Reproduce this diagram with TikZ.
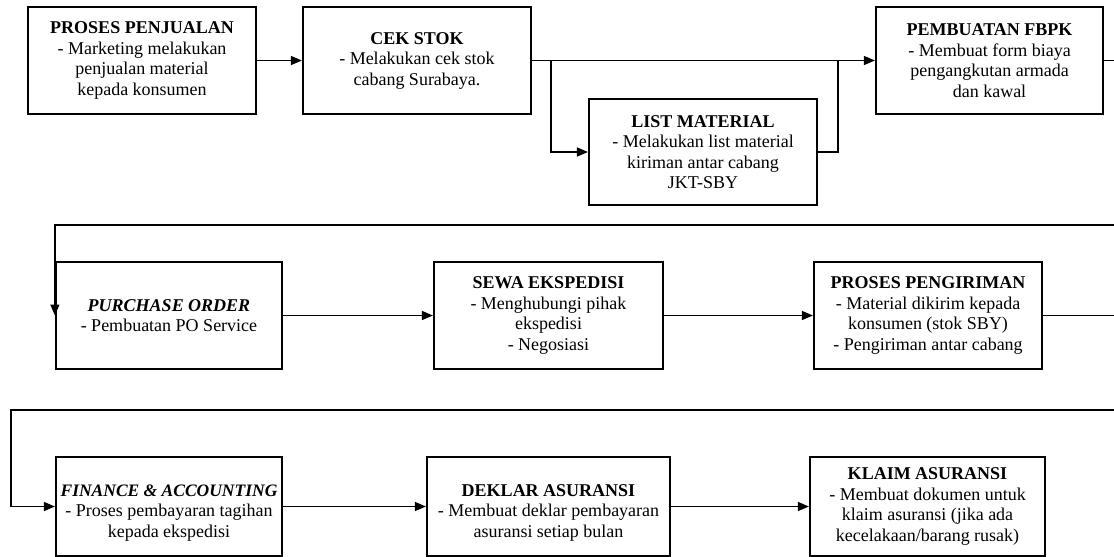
\documentclass[tikz,border=0pt]{standalone}
\usepackage{fontspec}
\setmainfont{Liberation Serif}
\usetikzlibrary{arrows.meta}
% invisible strut that pushes a text block down a little
\newcommand{\lowerstrut}{\rule{0pt}{24pt}}
\begin{document}
\begin{tikzpicture}[x=1pt,y=-1pt,
  stepbox/.style={draw=black, line width=2.2pt, fill=white, align=center,
    inner xsep=2pt, inner ysep=2pt,
    font=\fontsize{18}{20.5}\selectfont},
  link/.style={draw=black, line width=1.4pt},
  arr/.style={link, -{Triangle[length=11pt,width=9pt]}}]
  \useasboundingbox (0,0) rectangle (1114,557);
  \fill[white] (0,0) rectangle (1114,557);

  % row 1
  \node[stepbox, minimum width=228pt, minimum height=107pt] (pj) at (142,60.5)
    {\textbf{PROSES PENJUALAN}\\- Marketing melakukan\\penjualan material\\kepada konsumen};
  \node[stepbox, minimum width=228pt, minimum height=107pt] (cek) at (417,60.5)
    {\textbf{CEK STOK}\\- Melakukan cek stok\\cabang Surabaya.};
  \node[stepbox, minimum width=228pt, minimum height=106pt] (lst) at (703,152)
    {\textbf{LIST MATERIAL}\\- Melakukan list material\\kiriman antar cabang\\JKT-SBY};
  \node[stepbox, minimum width=227pt, minimum height=107pt] (fbpk) at (989.5,60.5)
    {\textbf{PEMBUATAN FBPK}\\- Membuat form biaya\\pengangkutan armada\\dan kawal};

  % row 2
  \node[stepbox, minimum width=226pt, minimum height=107pt] (po) at (169,315.5)
    {\textbf{\textit{PURCHASE ORDER}}\\- Pembuatan PO Service};
  \node[stepbox, minimum width=229pt, minimum height=107pt] (sewa) at (548.5,315.5)
    {\textbf{SEWA EKSPEDISI}\\- Menghubungi pihak\\ekspedisi\\- Negosiasi};
  \node[stepbox, minimum width=228pt, minimum height=107pt] (kirim) at (928,315.5)
    {\textbf{PROSES PENGIRIMAN}\\- Material dikirim kepada\\konsumen (stok SBY)\\- Pengiriman antar cabang};

  % row 3
  \node[stepbox, minimum width=226pt, minimum height=99pt] (fin) at (169,506.5)
    {\lowerstrut{\fontsize{17.5}{20.5}\selectfont\textbf{\textit{FINANCE \& ACCOUNTING}}}\\- Proses pembayaran tagihan\\kepada ekspedisi};
  \node[stepbox, minimum width=243pt, minimum height=99pt] (dek) at (548.5,506.5)
    {\lowerstrut\textbf{DEKLAR ASURANSI}\\- Membuat deklar pembayaran\\asuransi setiap bulan};
  \node[stepbox, minimum width=235pt, minimum height=99pt] (klaim) at (927.5,506.5)
    {\textbf{KLAIM ASURANSI}\\- Membuat dokumen untuk\\klaim asuransi (jika ada\\kecelakaan/barang rusak)};

  % branch points and return lines
  \coordinate (b1) at (551,60.5);
  \coordinate (b2) at (838,60.5);
  \coordinate (t1) at (1115,225);
  \coordinate (t2) at (1115,410);
  \coordinate (l2) at (11,410);

  % connectors, row 1
  \draw[arr] (pj) -- (cek);
  \draw[arr] (cek) -- (fbpk);
  \draw[arr] (b1) |- (lst.west);
  \draw[link] (lst.east) -| (b2);

  % row 1 to row 2
  \draw[arr] (fbpk.east) -| (t1) -- (t1 -| po.west) -- (po.west);

  % connectors, row 2
  \draw[arr] (po) -- (sewa);
  \draw[arr] (sewa) -- (kirim);

  % row 2 to row 3
  \draw[arr] (kirim.east) -| (t2) -- (l2) |- (fin.west);

  % connectors, row 3
  \draw[arr] (fin) -- (dek);
  \draw[arr] (dek) -- (klaim);
\end{tikzpicture}
\end{document}
